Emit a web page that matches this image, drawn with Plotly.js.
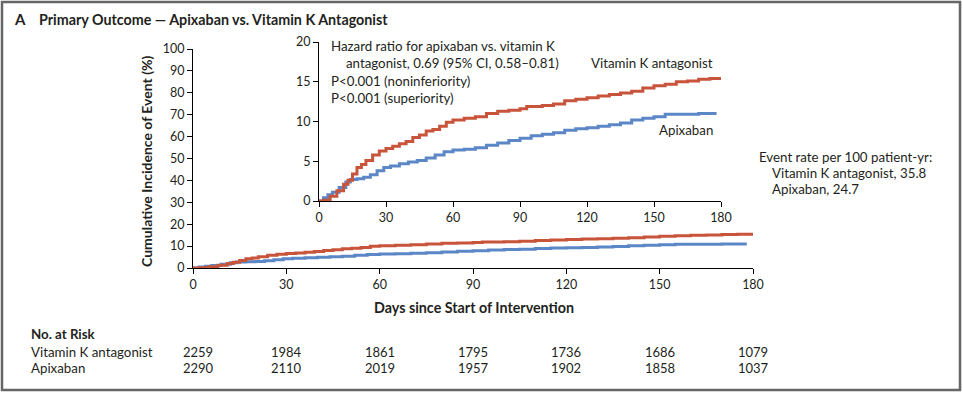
<!DOCTYPE html>
<html>
<head>
<meta charset="utf-8">
<script src="https://cdn.plot.ly/plotly-3.0.1.min.js"></script>
<style>html,body{margin:0;padding:0;background:#fff;}#chart{width:963px;height:393px;}</style>
</head>
<body>
<div id="chart"></div>
<script>
// ---- data ----
const vkaDays = [0,2,5,8,11,13,15,17,19,21,24,27,30,33,36,39,42,45,48,51,54,57,60,65,70,75,80,85,90,93,100,105,110,115,120,125,130,135,140,145,150,155,160,165,170,175,180];
const vkaPct  = [0,0.1,0.6,1.3,2.1,2.6,3.4,4.2,4.6,5.1,5.8,6.3,6.6,6.9,7.2,7.5,8.0,8.3,8.8,9.0,9.4,9.9,10.2,10.4,10.6,11.0,11.3,11.4,11.6,11.9,12.0,12.2,12.6,12.8,13.0,13.2,13.4,13.6,13.8,14.2,14.5,14.7,15.0,15.1,15.3,15.4,15.5];
const apxDays = [0,2,4,6,9,12,14,17,20,23,26,29,32,36,40,44,48,52,56,60,65,70,75,80,85,90,95,100,105,110,115,120,125,130,135,140,145,150,155,160,170,178];
const apxPct  = [0,0.4,0.8,1.1,1.7,2.4,2.7,2.8,3.0,3.3,3.8,4.2,4.4,4.7,4.9,5.1,5.4,5.8,6.2,6.4,6.5,6.7,7.0,7.3,7.6,7.9,8.2,8.4,8.6,8.9,9.1,9.2,9.4,9.6,9.8,10.2,10.4,10.6,10.9,10.9,11.0,11.0];
const riskDays = [0,30,60,90,120,150,180];
const riskVKA = [2259,1984,1861,1795,1736,1686,1079];
const riskApx = [2290,2110,2019,1957,1902,1858,1037];
const groupNames = ["Vitamin K antagonist","Apixaban"];

const RED = "#c8553b", BLUE = "#5b87c6", TXT = "#231f20";
const FONT = "Lato, 'Open Sans', sans-serif";
const W = 963, H = 393;
const px = x => x / W, py = y => 1 - y / H;

function curve(xs, ys, color, xa, ya, w) {
  return {x: xs, y: ys, type: "scatter", mode: "lines", xaxis: xa, yaxis: ya,
          line: {color: color, width: w, shape: "hv"}, hoverinfo: "skip", showlegend: false};
}
const traces = [
  curve(apxDays, apxPct, BLUE, "x", "y", 3),
  curve(vkaDays, vkaPct, RED, "x", "y", 3),
  curve(apxDays, apxPct, BLUE, "x2", "y2", 3),
  curve(vkaDays, vkaPct, RED, "x2", "y2", 3)
];

const axBase = {showgrid: false, zeroline: false, showline: true, linecolor: "#000", linewidth: 1,
  ticks: "outside", ticklen: 5, tickwidth: 1, tickcolor: "#000",
  tickfont: {family: FONT, size: 12.5, color: TXT}, fixedrange: true};

const ann = [];
function txt(t, x, y, opts) {
  ann.push(Object.assign({text: t, x: x, y: y, xref: "paper", yref: "paper", showarrow: false,
    xanchor: "left", yanchor: "middle", font: {family: FONT, size: 13.3, color: TXT}}, opts || {}));
}
txt("<b>A</b>", px(12), py(19), {font: {family: FONT, size: 15, color: TXT}});
txt("<b>Primary Outcome — Apixaban vs. Vitamin K Antagonist</b>", px(37), py(19), {font: {family: FONT, size: 14.3, color: TXT}});
txt("Hazard ratio for apixaban vs. vitamin K", px(329), py(46));
txt("antagonist, 0.69 (95% CI, 0.58–0.81)", px(344), py(63));
txt("P<0.001 (noninferiority)", px(329), py(81));
txt("P<0.001 (superiority)", px(329), py(98));
txt("Vitamin K antagonist", px(715), py(63), {xanchor: "right"});
txt("Apixaban", px(715), py(130), {xanchor: "right"});
txt("Event rate per 100 patient-yr:", px(757), py(157));
txt("Vitamin K antagonist, 35.8", px(770), py(173));
txt("Apixaban, 24.7", px(770), py(189));
txt("<b>Days since Start of Intervention</b>", px(474), py(307), {xanchor: "center", font: {family: FONT, size: 14.3, color: TXT}});
txt("<b>Cumulative Incidence of Event (%)</b>", px(146), py(162), {xanchor: "center", textangle: -90, font: {family: FONT, size: 14, color: TXT}});
txt("<b>No. at Risk</b>", px(29), py(334), {font: {family: FONT, size: 13.3, color: TXT}});
txt(groupNames[0], px(29), py(352));
txt(groupNames[1], px(29), py(368));
riskDays.forEach((d, i) => {
  ann.push({text: String(riskVKA[i]), x: d, xref: "x", y: py(352), yref: "paper", showarrow: false,
    xanchor: "center", yanchor: "middle", xshift: i === 0 ? 5 : 0, font: {family: FONT, size: 13, color: TXT}});
  ann.push({text: String(riskApx[i]), x: d, xref: "x", y: py(368), yref: "paper", showarrow: false,
    xanchor: "center", yanchor: "middle", xshift: i === 0 ? 5 : 0, font: {family: FONT, size: 13, color: TXT}});
});

const layout = {
  width: W, height: H, margin: {l: 0, r: 0, t: 0, b: 0},
  paper_bgcolor: "#fff", plot_bgcolor: "rgba(0,0,0,0)", showlegend: false,
  font: {family: FONT, color: TXT},
  xaxis: Object.assign({}, axBase, {domain: [px(193), px(753)], range: [0, 180], tickvals: riskDays, anchor: "y"}),
  yaxis: Object.assign({}, axBase, {domain: [py(268), py(49)], range: [0, 100], dtick: 10, anchor: "x"}),
  xaxis2: Object.assign({}, axBase, {domain: [px(319), px(721)], range: [0, 180], tickvals: riskDays, anchor: "y2"}),
  yaxis2: Object.assign({}, axBase, {domain: [py(201), py(42)], range: [0, 20], dtick: 5, anchor: "x2"}),
  annotations: ann,
  shapes: [{type: "rect", xref: "paper", yref: "paper", x0: px(2), x1: px(960), y0: py(390), y1: py(2),
            line: {color: "#666", width: 2.5}}]
};
Plotly.newPlot("chart", traces, layout, {displayModeBar: false, staticPlot: true});
</script>
</body>
</html>
